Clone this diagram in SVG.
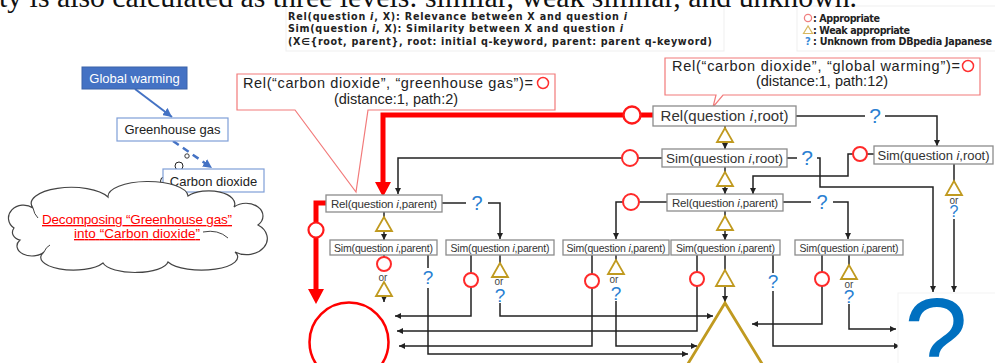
<svg xmlns="http://www.w3.org/2000/svg" width="995" height="363" viewBox="0 0 995 363">
<defs>
  <marker id="ah" viewBox="0 0 8 8" refX="8" refY="4" markerWidth="6" markerHeight="6" markerUnits="userSpaceOnUse" orient="auto">
    <path d="M0,0 L8,4 L0,8 z" fill="#222"/>
  </marker>
  <marker id="ahb" viewBox="0 0 8 8" refX="8" refY="4" markerWidth="9" markerHeight="9" markerUnits="userSpaceOnUse" orient="auto">
    <path d="M0,0 L8,4 L0,8 z" fill="#4472C4"/>
  </marker>
</defs>
<style>
  .box{fill:#fff;stroke:#8c8c8c;stroke-width:1.3}
  .lbl{font-family:"Liberation Sans",Arial,sans-serif;fill:#333;text-anchor:middle}
  .ln{fill:none;stroke:#222;stroke-width:1.5}
  .arr{marker-end:url(#ah)}
  .ok{fill:#fff;stroke:#ff2a2a;stroke-width:2}
  .wk{fill:#fff;stroke:#c09a20;stroke-width:1.8}
  .q{font-family:"Liberation Sans",Arial,sans-serif;fill:#2a80d2;text-anchor:middle}
  .or{font-family:"Liberation Sans",Arial,sans-serif;fill:#444;font-size:10px;text-anchor:middle}
  .red{fill:none;stroke:#ff0000;stroke-width:5}
  .call{fill:#fff;stroke:#f27a7a;stroke-width:1.2}
  .ctext{font-family:"Liberation Sans",Arial,sans-serif;font-size:14.5px;fill:#222}
  .leg{font-family:"DejaVu Sans",Verdana,sans-serif;font-weight:bold;font-size:9.6px;fill:#222}
  .tbox{fill:#fff;stroke:#7f9fd8;stroke-width:1.2}
  .ttext{font-family:"Liberation Sans",Arial,sans-serif;font-size:13px;fill:#222;text-anchor:middle}
</style>

<!-- legend: notation -->
<g id="legend-notation">
  <rect x="286" y="-2" width="438" height="53" fill="none" stroke="#efefef"/>
  <text class="leg" x="288" y="20" textLength="339">Rel(question <tspan font-style="italic">i</tspan>, X): Relevance between X and question <tspan font-style="italic">i</tspan></text>
  <text class="leg" x="288" y="32" textLength="335">Sim(question <tspan font-style="italic">i</tspan>, X): Similarity between X and question <tspan font-style="italic">i</tspan></text>
  <text class="leg" x="288" y="44.5" textLength="424">(X∈{root, parent}, root: initial q-keyword, parent: parent q-keyword)</text>
</g>

<!-- legend: symbols -->
<g id="legend-symbols">
  <rect x="797" y="6" width="200" height="45" fill="none" stroke="#efefef"/>
  <circle cx="808" cy="18" r="3.6" fill="#fff" stroke="#f08080" stroke-width="1.3"/>
  <text class="leg" x="813" y="21.5" textLength="67">: Appropriate</text>
  <polygon points="808,26 803.5,33.5 812.5,33.5" fill="#fff" stroke="#d8b860" stroke-width="1.2"/>
  <text class="leg" x="813" y="33.5" textLength="97">: Weak appropriate</text>
  <text x="808" y="45" font-family="'DejaVu Sans',sans-serif" font-weight="bold" font-size="10" fill="#3a8ad8" text-anchor="middle">?</text>
  <text class="leg" x="813" y="45" textLength="179">: Unknown from DBpedia Japanese</text>
</g>

<!-- heading line, cut at the top edge -->
<text x="-1" y="7" font-family="'Liberation Serif','Times New Roman',serif" font-size="30" fill="#111" textLength="858" lengthAdjust="spacingAndGlyphs">ty is also calculated as three levels: similar, weak similar, and unknown.</text>

<!-- keyword tree -->
<g id="kw-links">
  <line x1="135" y1="89" x2="172" y2="117" stroke="#4472C4" stroke-width="2" marker-end="url(#ahb)"/>
  <line x1="173" y1="141" x2="212" y2="168" stroke="#4472C4" stroke-width="2.5" stroke-dasharray="7,5" marker-end="url(#ahb)"/>
  <circle cx="179" cy="166" r="4" fill="#fff" stroke="#222" stroke-width="1"/>
  <circle cx="164.5" cy="181" r="4" fill="#fff" stroke="#222" stroke-width="1"/>
  <circle cx="187" cy="156" r="2.2" fill="none" stroke="#222" stroke-width="0.9"/>
</g>
<g id="kw-global-warming">
  <rect x="82" y="67" width="105" height="22" fill="#4472C4" stroke="#3a62a8"/>
  <text class="ttext" x="134.5" y="82.5" style="fill:#fff">Global warming</text>
</g>
<g id="kw-greenhouse-gas">
  <rect class="tbox" x="117" y="118" width="111" height="23"/>
  <text class="ttext" x="172.5" y="134">Greenhouse gas</text>
</g>
<g id="kw-carbon-dioxide">
  <rect class="tbox" x="163" y="169" width="101" height="23"/>
  <text class="ttext" x="213.5" y="185.5">Carbon dioxide</text>
</g>

<!-- cloud note -->
<g id="cloud-note">
  <path d="M14,228 A14,12 0 0 1 33,208 A40,16 0 0 1 108,197 A40,15 0 0 1 188,196 A26,13 0 0 1 234,207 A16,12 0 0 1 258,225 A18,14 0 0 1 235,252 A33,12 0 0 1 168,262 A33,12 0 0 1 103,263 A31,12 0 0 1 44,252 A15,10 0 0 1 20,240 A10,8 0 0 1 14,228 Z" fill="#fff" stroke="#444" stroke-width="1.2"/>
  <path d="M203,232 Q218,229 228,238 M33,208 Q34,214 38,218 M44,252 Q46,247 50,245" fill="none" stroke="#444" stroke-width="1"/>
  <text x="137" y="224" font-family="'Liberation Sans',Arial,sans-serif" font-size="13.5" fill="#ff0000" text-anchor="middle" text-decoration="underline" textLength="190">Decomposing “Greenhouse gas”</text>
  <text x="137" y="238" font-family="'Liberation Sans',Arial,sans-serif" font-size="13.5" fill="#ff0000" text-anchor="middle" text-decoration="underline" textLength="126">into “Carbon dioxide”</text>
</g>

<!-- callouts -->
<g id="callout-greenhouse">
  <path class="call" d="M237,74 H555 V110 H368 L356,192 L295,110 H237 Z"/>
  <text class="ctext" x="243" y="88" textLength="290">Rel(“carbon dioxide”, “greenhouse gas”)=</text>
  <circle cx="543" cy="83" r="5.5" fill="#fff" stroke="#ff3030" stroke-width="1.5"/>
  <text class="ctext" x="396" y="104" text-anchor="middle">(distance:1, path:2)</text>
</g>
<g id="callout-global">
  <path class="call" d="M665,58 H980 V95 H723 L713,107 L716,95 H665 Z"/>
  <text class="ctext" x="672" y="71" textLength="288">Rel(“carbon dioxide”, “global warming”)=</text>
  <circle cx="968" cy="66" r="5.5" fill="#fff" stroke="#ff3030" stroke-width="1.5"/>
  <text class="ctext" x="822" y="86" text-anchor="middle">(distance:1, path:12)</text>
</g>

<!-- connectors -->
<g id="connectors">
  <!-- highlighted path -->
  <path class="red" d="M625,115 H383 V183"/>
  <polygon points="375,182 391,182 383,197" fill="#ff0000"/>
  <path class="red" d="M640,115 H653"/>
  <path class="red" d="M326,203 H316 V290"/>
  <polygon points="308,289 324,289 316,304" fill="#ff0000"/>

  <!-- upper levels -->
  <path class="ln arr" d="M622,158 H398 V194"/>
  <path class="ln" d="M638,158 H662"/>
  <path class="ln arr" d="M623,202 H616 V239"/>
  <path class="ln" d="M639,202 H667"/>
  <path class="ln" d="M796,116 H865"/>
  <path class="ln arr" d="M885,116 H937 V146"/>
  <path class="ln" d="M787,158 H797"/>
  <path class="ln arr" d="M817,158 H820 V187 H933 V292"/>
  <path class="ln" d="M867,154 H874"/>
  <path class="ln arr" d="M853,154 H848 V176 H753 V194"/>
  <path class="ln" d="M954,164 V181"/>
  <path class="ln arr" d="M954,219 V292"/>
  <path class="ln" d="M783,202 H811"/>
  <path class="ln arr" d="M833,202 H848 V239"/>
  <path class="ln" d="M442,203 H466"/>
  <path class="ln arr" d="M488,203 H500 V239"/>

  <!-- vertical chains -->
  <path class="ln" d="M725,126 V128"/>
  <path class="ln arr" d="M725,142 V149"/>
  <path class="ln" d="M725,167 V172"/>
  <path class="ln arr" d="M725,186 V194"/>
  <path class="ln" d="M725,211 V216"/>
  <path class="ln arr" d="M725,230 V240"/>
  <path class="ln" d="M384,212 V217"/>
  <path class="ln arr" d="M384,231 V240"/>

  <!-- lowest level -->
  <path class="ln" d="M384,255 V257"/>
  <path class="ln arr" d="M384,296 V302"/>
  <path class="ln" d="M428,255 V268"/>
  <path class="ln arr" d="M428,288 V354 H688"/>
  <path class="ln" d="M471,255 V273"/>
  <path class="ln arr" d="M471,287 V316 H395"/>
  <path class="ln" d="M500,255 V263"/>
  <path class="ln arr" d="M500,303 V316 H713"/>
  <path class="ln" d="M592,255 V274"/>
  <path class="ln arr" d="M592,288 V346 H399"/>
  <path class="ln" d="M616,255 V260"/>
  <path class="ln arr" d="M616,301 V346 H697"/>
  <path class="ln" d="M697,255 V272"/>
  <path class="ln arr" d="M697,286 V331 H397"/>
  <path class="ln" d="M725,255 V270"/>
  <path class="ln arr" d="M725,286 V302"/>
  <path class="ln" d="M773,255 V273"/>
  <path class="ln arr" d="M773,291 V346 H900"/>
  <path class="ln" d="M822,255 V272"/>
  <path class="ln arr" d="M822,286 V324 H752"/>
  <path class="ln" d="M849,255 V265"/>
  <path class="ln arr" d="M849,304 V329 H896"/>
</g>

<!-- relevance / similarity nodes -->
<g id="rel-root">
  <rect class="box" x="653" y="106" width="143" height="20"/>
  <text class="lbl" x="724.5" y="121" font-size="15" textLength="128">Rel(question <tspan font-style="italic">i</tspan>,root)</text>
</g>
<g id="sim-root-a">
  <rect class="box" x="662" y="149" width="125" height="18"/>
  <text class="lbl" x="724.5" y="163" font-size="13.5" textLength="117">Sim(question <tspan font-style="italic">i</tspan>,root)</text>
</g>
<g id="sim-root-b">
  <rect class="box" x="874" y="146" width="119" height="18"/>
  <text class="lbl" x="933.5" y="160" font-size="13" textLength="112">Sim(question <tspan font-style="italic">i</tspan>,root)</text>
</g>
<g id="rel-parent-a">
  <rect class="box" x="326" y="195" width="116" height="17"/>
  <text class="lbl" x="384" y="208" font-size="11.5" textLength="106">Rel(question <tspan font-style="italic">i</tspan>,parent)</text>
</g>
<g id="rel-parent-b">
  <rect class="box" x="667" y="194" width="116" height="17"/>
  <text class="lbl" x="725" y="207" font-size="11.5" textLength="106">Rel(question <tspan font-style="italic">i</tspan>,parent)</text>
</g>
<g id="sim-parent-1">
  <rect class="box" x="330" y="240" width="107" height="15"/>
  <text class="lbl" x="383.5" y="252" font-size="10.5" textLength="99">Sim(question <tspan font-style="italic">i</tspan>,parent)</text>
</g>
<g id="sim-parent-2">
  <rect class="box" x="446" y="240" width="108" height="15"/>
  <text class="lbl" x="500" y="252" font-size="10.5" textLength="99">Sim(question <tspan font-style="italic">i</tspan>,parent)</text>
</g>
<g id="sim-parent-3">
  <rect class="box" x="563" y="240" width="106" height="15"/>
  <text class="lbl" x="616" y="252" font-size="10.5" textLength="99">Sim(question <tspan font-style="italic">i</tspan>,parent)</text>
</g>
<g id="sim-parent-4">
  <rect class="box" x="671" y="240" width="109" height="15"/>
  <text class="lbl" x="725.5" y="252" font-size="10.5" textLength="99">Sim(question <tspan font-style="italic">i</tspan>,parent)</text>
</g>
<g id="sim-parent-5">
  <rect class="box" x="795" y="240" width="108" height="15"/>
  <text class="lbl" x="849" y="252" font-size="10.5" textLength="99">Sim(question <tspan font-style="italic">i</tspan>,parent)</text>
</g>

<!-- outcome marks on the links -->
<g id="marks-appropriate">
  <circle cx="632" cy="115" r="8.5" fill="#fff" stroke="#ff1a1a" stroke-width="2.4"/>
  <circle cx="316" cy="230" r="7.5" fill="#fff" stroke="#ff1a1a" stroke-width="2.2"/>
  <circle class="ok" cx="630" cy="158" r="8"/>
  <circle class="ok" cx="631" cy="202" r="8"/>
  <circle class="ok" cx="860" cy="154" r="7"/>
  <circle class="ok" cx="384" cy="264" r="7"/>
  <circle class="ok" cx="471" cy="280" r="7"/>
  <circle class="ok" cx="592" cy="281" r="7"/>
  <circle class="ok" cx="697" cy="279" r="7"/>
  <circle class="ok" cx="822" cy="279" r="7"/>
</g>
<g id="marks-weak">
  <polygon class="wk" points="725,128 717,142 733,142"/>
  <polygon class="wk" points="725,172 717,186 733,186"/>
  <polygon class="wk" points="725,216 717,230 733,230"/>
  <polygon class="wk" points="384,217 376,231 392,231"/>
  <polygon class="wk" points="384,282 376,296 392,296"/>
  <polygon class="wk" points="500,263 492,277 508,277"/>
  <polygon class="wk" points="616,260 608,274 624,274"/>
  <polygon class="wk" points="725,270 716,286 734,286"/>
  <polygon class="wk" points="849,265 841,279 857,279"/>
  <polygon class="wk" points="954,181 946,195 962,195"/>
</g>
<g id="marks-or">
  <text class="or" x="383" y="281">or</text>
  <text class="or" x="499" y="285">or</text>
  <text class="or" x="614" y="283">or</text>
  <text class="or" x="849" y="288">or</text>
  <text class="or" x="954" y="204">or</text>
</g>
<g id="marks-unknown">
  <text class="q" x="875" y="123" font-size="21">?</text>
  <text class="q" x="807" y="165" font-size="21">?</text>
  <text class="q" x="822" y="209" font-size="20">?</text>
  <text class="q" x="477" y="210" font-size="20">?</text>
  <text class="q" x="428" y="284" font-size="19">?</text>
  <text class="q" x="500" y="302" font-size="19">?</text>
  <text class="q" x="616" y="300" font-size="19">?</text>
  <text class="q" x="773" y="288" font-size="19">?</text>
  <text class="q" x="849" y="303" font-size="19">?</text>
  <text class="q" x="954" y="217" font-size="16">?</text>
</g>

<!-- final outcomes -->
<g id="result-appropriate">
  <circle cx="349" cy="342" r="39.5" fill="none" stroke="#ff0000" stroke-width="2.5"/>
</g>
<g id="result-weak">
  <polyline points="664,403 725,303 786,403" fill="none" stroke="#c09a20" stroke-width="2.8"/>
</g>
<g id="result-unknown">
  <rect x="898" y="293" width="100" height="80" fill="#fff" stroke="#f3f3f3"/>
  <text x="936" y="378" font-family="'Liberation Sans',Arial,sans-serif" font-size="115" fill="#0070C0" text-anchor="middle">?</text>
</g>
</svg>
